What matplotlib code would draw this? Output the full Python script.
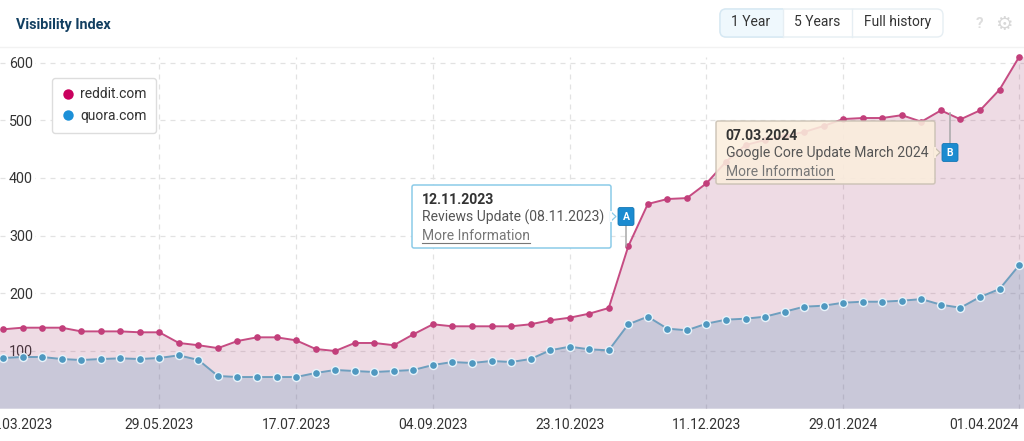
import numpy as np
import matplotlib
matplotlib.use('Agg')
import matplotlib.pyplot as plt
from matplotlib.lines import Line2D
from matplotlib.patches import FancyBboxPatch, Polygon, Rectangle

plt.rcParams['font.family'] = ['Roboto', 'DejaVu Sans']

# Weekly values
reddit = [137.6, 140.4, 140.4, 140.4, 134, 134, 134, 132.4, 132.4, 113.9, 110, 105, 117.3,
          123.7, 123.7, 118.5, 103.5, 100, 113.9, 113.9, 110, 128.9, 146.3, 142.8, 142.8,
          142.8, 142.8, 146.3, 153.2, 157.7, 164.7, 174.5, 281.5, 354.8, 363.4, 365, 390.6,
          428, 457, 465.7, 472.6, 479.5, 490, 502, 503.8, 503.8, 508.7, 497.4, 517, 501.5,
          517, 552.9, 609.5]
quora = [87.9, 89.6, 89.6, 86.1, 84.4, 86.1, 87.3, 86.1, 87.9, 92.5, 84.4, 56.7, 54.9, 54.9,
         54.9, 54.9, 61.9, 67.1, 65.3, 63.6, 65.3, 67.1, 75.7, 80.9, 79.2, 82.7, 80.9, 86.1,
         101.2, 107.5, 102.9, 101.2, 146.3, 159.5, 138.7, 135.9, 147.4, 154.3, 156, 159.5,
         168.1, 176.8, 178.5, 183.7, 185.4, 185.4, 187.2, 189.9, 180.2, 175, 193.6, 207.4,
         248.5]
x_ticks = [8, 15, 22, 29, 36, 43, 52]
x_labels = ['29.05.2023', '17.07.2023', '04.09.2023', '23.10.2023', '11.12.2023',
            '29.01.2024', '01.04.2024']
first_tick = 0.77
first_label = '20.03.2023'
y_ticks = [100, 200, 300, 400, 500, 600]

x = np.arange(len(reddit))

# Pixel calibration of the plot area
W, H = 1024, 441
px_per_week = 19.54
x0_px = 3
top_px, bottom_px = 57, 408.7
px_per_unit = 0.577

fig = plt.figure(figsize=(W / 100, H / 100), dpi=100, facecolor='white')
ax = fig.add_axes([0, (H - bottom_px) / H, 1, (bottom_px - top_px) / H])
ax.set_xlim(-x0_px / px_per_week, (W - x0_px) / px_per_week)
ax.set_ylim(0, (bottom_px - top_px) / px_per_unit)
for s in ax.spines.values():
    s.set_visible(False)

# Areas run on to the edges of the panel
x_fill = np.r_[ax.get_xlim()[0], x, ax.get_xlim()[1]]
ax.fill_between(x_fill, np.r_[reddit[0], reddit, reddit[-1]], color='#A63A6E', alpha=0.18, lw=0, zorder=1)
ax.fill_between(x_fill, np.r_[quora[0], quora, quora[-1]], color='#4E8AB5', alpha=0.23, lw=0, zorder=2)

ax.plot(x, reddit, color='#C64C83', lw=1.4, marker='o', ms=4.8, mfc='#C23F7B', mew=0, clip_on=False, zorder=3)
ax.plot(x, quora, color='#6F9FBF', lw=1.4, marker='o', ms=5.8, mfc='#4F98C0', mec='#E8F3FA', mew=1,
        clip_on=False, zorder=4)

# Grid and ticks
ax.set_axisbelow(True)
ax.set_xticks(x_ticks, x_labels)
ax.set_xticks([first_tick], [first_label], minor=True)
ax.set_yticks(y_ticks, [str(v) for v in y_ticks])
ax.grid(True, which='major', color='#E2E2E2', lw=0.9, ls=(0, (4, 4)))
ax.tick_params(axis='x', which='both', length=0, pad=7, labelsize=10, labelcolor='#333333')
ax.tick_params(axis='y', length=0, pad=-23.8, labelsize=10.3, labelcolor='#333333')
ax.get_xticklabels()[-1].set_ha('right')
for lab in ax.get_yticklabels()[1:]:
    lab.set_bbox(dict(facecolor='white', edgecolor='none', pad=1.5))

# Legend
handles = [Line2D([], [], ls='', marker='o', ms=7.5, mew=0, color='#C9005E', label='reddit.com'),
           Line2D([], [], ls='', marker='o', ms=7.5, mew=0, color='#1C90D8', label='quora.com')]
leg = ax.legend(handles=handles, loc='upper left', bbox_to_anchor=(52 / W, (H - 78) / H),
                bbox_transform=fig.transFigure, borderaxespad=0, fontsize=10, labelcolor='#333333',
                frameon=True, fancybox=True, framealpha=1, edgecolor='#DDDDDD', handletextpad=0.35,
                labelspacing=0.55, borderpad=0.68, handlelength=1.0)
leg.set_zorder(6)

# Overlay in pixel coordinates for the page furniture
ov = fig.add_axes([0, 0, 1, 1], zorder=10)
ov.set_xlim(0, W)
ov.set_ylim(H, 0)
ov.axis('off')

ov.plot([0, W], [47, 47], color='#F2F2F2', lw=1)
ov.text(16, 24.5, 'Visibility Index', fontsize=10.4, fontweight='bold', color='#123F61', va='center')

# Range buttons
ov.add_patch(FancyBboxPatch((720, 9), 223, 28, boxstyle='round,pad=0,rounding_size=6', fc='white',
                            ec='#E6EEF3', lw=1))
first = FancyBboxPatch((720, 9), 223, 28, boxstyle='round,pad=0,rounding_size=6', fc='#EFF8FD',
                       ec='#D5E8F3', lw=1)
ov.add_patch(first)
first.set_clip_path(Rectangle((719, 7), 64, 32, transform=ov.transData))
for bx in [783, 852]:
    ov.plot([bx, bx], [9, 37], color='#E6EEF3', lw=1)
for bx, label in zip([751, 817, 898], ['1 Year', '5 Years', 'Full history']):
    ov.text(bx, 22, label, fontsize=10, color='#333333', ha='center', va='center')
ov.text(979, 24, '?', fontsize=11, fontweight='bold', color='#DDDDDD', ha='center', va='center')
ov.text(1004, 24, '\u2699', fontsize=14, color='#D8D8D8', ha='center', va='center', family='DejaVu Sans')


def callout(box, fc, ec, alpha, date, title, tip_x, badge, stem_to):
    left, top, right, bottom = box
    mid = (top + bottom) / 2
    # stem and badge
    bx = tip_x + 10
    ov.plot([bx, bx], [mid, stem_to], color='#A8A8A8', lw=1.1, zorder=1)
    ov.add_patch(FancyBboxPatch((bx - 8, mid - 9), 16, 18, boxstyle='round,pad=0,rounding_size=2',
                                fc='#1B8BD0', ec='#1678B5', lw=0.6, zorder=2))
    ov.text(bx, mid + 0.3, badge, fontsize=7.5, fontweight='bold', color='white', ha='center', va='center', zorder=3)
    # box
    ov.add_patch(FancyBboxPatch((left, top), right - left, bottom - top, boxstyle='round,pad=0,rounding_size=2',
                                fc=fc, ec=ec, lw=1.1, alpha=alpha, zorder=4))
    ov.add_patch(Polygon([(right - 0.5, mid - 5), (tip_x, mid), (right - 0.5, mid + 5)], fc=fc, ec=ec, lw=0.9, zorder=4))
    ov.plot([right, right], [mid - 4.5, mid + 4.5], color=fc, lw=1.4, zorder=4)
    # text
    tx = left + 9.5
    ov.text(tx, top + 14.5, date, fontsize=10.1, fontweight='bold', color='#333333', va='center', zorder=5)
    ov.text(tx, top + 32.5, title, fontsize=10.05, color='#555555', va='center', zorder=5)
    more = ov.text(tx, top + 50.5, 'More Information', fontsize=10, color='#777777', va='center', zorder=5)
    w = more.get_window_extent(fig.canvas.get_renderer()).width
    ov.plot([tx, tx + w], [top + 57.5, top + 57.5], color='#777777', lw=0.8, zorder=5)


callout((412, 185, 611, 248), 'white', '#8CCBE8', 1, '12.11.2023', 'Reviews Update (08.11.2023)', 616, 'A', 246)
callout((716, 121, 935, 184), '#FBEEDD', '#C9C0B2', 0.88, '07.03.2024', 'Google Core Update March 2024', 940, 'B', 113)

fig.savefig('out.png', dpi=100)
